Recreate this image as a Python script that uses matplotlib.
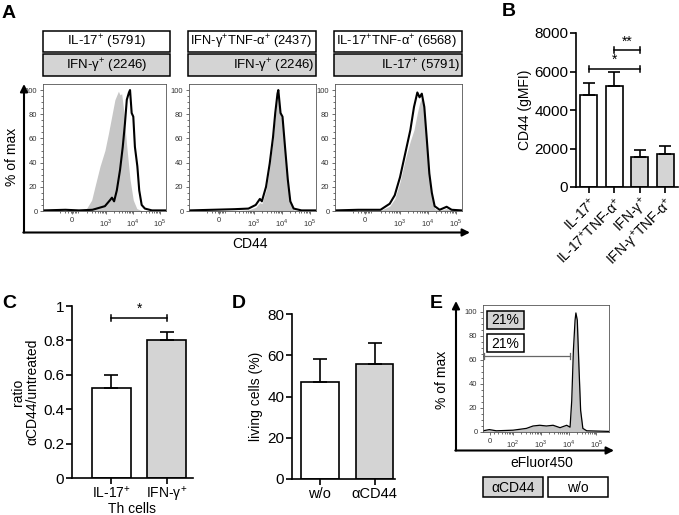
import numpy as np
import matplotlib
matplotlib.use("Agg")
import matplotlib.pyplot as plt
from matplotlib.patches import Rectangle

plt.rcParams['font.family'] = ['Liberation Sans', 'DejaVu Sans']
plt.rcParams['mathtext.fontset'] = 'custom'
plt.rcParams['mathtext.rm'] = 'Liberation Sans'

W, H = 679, 515
GRAY = '#d4d4d4'
FILL = '#c6c6c6'

# ---- panel A: CD44 histograms (x in decades of the display scale, y in % of max)
h1_gray_x = [0.7, 2.0, 2.28, 2.47, 2.59, 2.78, 2.96, 3.09, 3.21, 3.33, 3.46, 3.52, 3.58, 3.64, 3.77, 3.89, 4.01, 4.14, 4.3, 5.2]
h1_gray_y = [0, 0.5, 2, 9, 20, 37, 50, 64, 78, 92, 99, 96, 97, 86, 53, 26, 9, 2, 0.5, 0]
h1_black_x = [0.7, 1.5, 2.0, 2.5, 2.96, 3.15, 3.22, 3.3, 3.4, 3.52, 3.62, 3.70, 3.77, 3.85, 3.89, 3.95, 4.01, 4.07, 4.16, 4.23, 4.32, 4.44, 4.7, 5.2]
h1_black_y = [0.5, 1, 0.5, 1, 4, 9, 11, 8, 17, 34, 53, 72, 92, 98, 100, 81, 78, 53, 37, 17, 5, 2, 0.5, 0.5]

h2_x = [0.7, 1.5, 2.3, 2.8, 3.06, 3.21, 3.28, 3.43, 3.56, 3.68, 3.76, 3.84, 3.87, 3.95, 4.02, 4.11, 4.21, 4.30, 4.42, 4.7, 5.2]
h2_black_y = [0.5, 1, 1.5, 2, 5, 10, 8, 20, 39, 61, 81, 97, 100, 81, 78, 53, 26, 8, 2, 0.5, 0.5]
h2_gray_y = [0, 0, 0.5, 1, 3, 7, 6, 17, 36, 58, 78, 94, 97, 79, 75, 50, 23, 6, 1, 0, 0]

h3_x = [0.7, 1.5, 2.3, 2.63, 2.81, 3.0, 3.19, 3.37, 3.5, 3.62, 3.70, 3.78, 3.87, 3.96, 4.05, 4.14, 4.24, 4.42, 4.67, 4.85, 5.2]
h3_black_y = [0.5, 1, 1, 6, 13, 28, 48, 67, 86, 98, 94, 97, 86, 59, 31, 15, 4, 1, 3.5, 1, 0.5]
h3_gray_y = [0, 0.5, 0.5, 4, 10, 24, 43, 58, 67, 81, 89, 94, 83, 56, 28, 12, 2, 0.5, 2, 0.5, 0]

a_ticks = [1.74, 3, 4, 5]
a_ticklabels = ['0', '$10^3$', '$10^4$', '$10^5$']

# ---- panel B
b_cats = ['IL-17$^{+}$', 'IL-17$^{+}$TNF-α$^{+}$', 'IFN-γ$^{+}$', 'IFN-γ$^{+}$TNF-α$^{+}$']
b_vals = [4800, 5250, 1550, 1720]
b_err = [620, 720, 380, 420]
b_colors = ['white', 'white', GRAY, GRAY]

# ---- panel C
c_cats = ['IL-17$^{+}$', 'IFN-γ$^{+}$']
c_vals = [0.525, 0.80]
c_err = [0.075, 0.05]

# ---- panel D
d_cats = ['w/o', 'αCD44']
d_vals = [46.8, 56.0]
d_err = [11.6, 9.8]

# ---- panel E: eFluor450 dilution
e_x = [0.92, 1.15, 1.4, 2.0, 2.48, 2.72, 2.96, 3.2, 3.44, 3.69, 3.93, 4.05, 4.11, 4.17, 4.23, 4.26, 4.31, 4.37, 4.43, 4.51, 4.65, 5.45]
e_y = [1, 2, 1, 1.5, 3, 5, 5.6, 5, 5.6, 3.6, 5.6, 4, 26, 68, 93, 99, 93, 54, 18, 3, 1, 0.5]
e_ticks = [1.16, 2, 3, 4, 5]
e_ticklabels = ['0', '$10^2$', '$10^3$', '$10^4$', '$10^5$']
e_gate = (0.92, 4.05, 63)


fig = plt.figure(figsize=(W / 100, H / 100), dpi=100)


def px_axes(l, t, r, b):
    return fig.add_axes([l / W, 1 - b / H, (r - l) / W, (b - t) / H])


def flow_style(ax, xlim, ticks, labels, ytop):
    ax.set_xlim(*xlim)
    ax.set_ylim(0, ytop)
    ax.set_xticks(ticks)
    ax.set_xticklabels(labels)
    ax.set_yticks(range(0, 101, 20))
    minor = [np.log10(k * 10 ** d) for d in range(1, 5) for k in range(2, 10)]
    ax.set_xticks([m for m in minor if xlim[0] < m < xlim[1]], minor=True)
    ax.set_yticks(range(0, 101, 5), minor=True)
    ax.tick_params(labelsize=5.5, length=2.5, width=0.5, pad=1.5, colors='#333333')
    ax.tick_params(which='minor', length=1.5, width=0.4)
    for s in ax.spines.values():
        s.set_linewidth(0.6)
        s.set_color('#555555')


def bar_style(ax):
    ax.spines['top'].set_visible(False)
    ax.spines['right'].set_visible(False)
    ax.spines['left'].set_linewidth(1.2)
    ax.spines['bottom'].set_linewidth(1.2)
    ax.tick_params(labelsize=11, width=1.2, length=4, pad=1.5)


def bracket(ax, x1, x2, y, d, label):
    ax.plot([x1, x2], [y, y], color='k', lw=1.1, clip_on=False)
    ax.plot([x1, x1], [y - d, y + d], color='k', lw=1.1, clip_on=False)
    ax.plot([x2, x2], [y - d, y + d], color='k', lw=1.1, clip_on=False)
    ax.text((x1 + x2) / 2, y + d * 0.6, label, ha='center', va='bottom', fontsize=10, clip_on=False)


# panel A histograms
hist_boxes = [(43, 166), (189, 316), (335, 462)]
hist_data = [(h1_gray_x, h1_gray_y, h1_black_x, h1_black_y),
             (h2_x, h2_gray_y, h2_x, h2_black_y),
             (h3_x, h3_gray_y, h3_x, h3_black_y)]
for (l, r), (gx, gy, bx, by) in zip(hist_boxes, hist_data):
    ax = px_axes(l, 84, r, 211)
    ax.fill_between(gx, gy, color=FILL, lw=0)
    ax.plot(bx, by, color='k', lw=1.5)
    flow_style(ax, (0.67, 5.22), a_ticks, a_ticklabels, 105)

# panel B
axb = px_axes(576, 33, 678, 187)
xb = np.arange(len(b_vals))
axb.bar(xb, b_vals, width=0.68, color=b_colors, edgecolor='k', lw=1.2,
        yerr=[[0] * len(b_err), b_err], capsize=4, error_kw=dict(lw=1.2, capthick=1.2))
axb.set_xlim(-0.5, 3.5)
axb.set_ylim(0, 8000)
axb.set_yticks([0, 2000, 4000, 6000, 8000])
axb.set_xticks(xb)
axb.set_xticklabels(b_cats, rotation=45, ha='right', rotation_mode='anchor')
axb.set_ylabel('CD44 (gMFI)', fontsize=10, labelpad=2)
bar_style(axb)
axb.tick_params(axis='x', labelsize=10)
bracket(axb, 0, 2, 6150, 160, '*')
bracket(axb, 1, 2, 7100, 160, '**')

# panel C
axc = px_axes(72, 306, 193, 478)
xc = np.arange(len(c_vals))
axc.bar(xc, c_vals, width=0.70, color=['white', GRAY], edgecolor='k', lw=1.2,
        yerr=[[0, 0], c_err], capsize=5, error_kw=dict(lw=1.2, capthick=1.2))
axc.set_xlim(-0.71, 1.47)
axc.set_ylim(0, 1)
axc.set_yticks([0, 0.2, 0.4, 0.6, 0.8, 1])
axc.set_yticklabels(['0', '0.2', '0.4', '0.6', '0.8', '1'])
axc.set_xticks(xc)
axc.set_xticklabels(c_cats)
axc.set_ylabel('ratio\nαCD44/untreated', fontsize=10, labelpad=3, linespacing=1.0)
bar_style(axc)
axc.tick_params(axis='x', labelsize=10, pad=1)
axc.set_xlabel('Th cells', fontsize=10, labelpad=-1.5)
bracket(axc, 0, 1, 0.93, 0.02, '*')

# panel D
axd = px_axes(292, 314, 395, 479)
xd = np.arange(len(d_vals))
axd.bar(xd, d_vals, width=0.68, color=['white', GRAY], edgecolor='k', lw=1.2,
        yerr=[[0, 0], d_err], capsize=5, error_kw=dict(lw=1.2, capthick=1.2))
axd.set_xlim(-0.51, 1.37)
axd.set_ylim(0, 80)
axd.set_yticks([0, 20, 40, 60, 80])
axd.set_xticks(xd)
axd.set_xticklabels(d_cats)
axd.set_ylabel('living cells (%)', fontsize=10, labelpad=3)
bar_style(axd)
axd.tick_params(axis='x', labelsize=10.5)

# panel E histogram
axe = px_axes(483, 305, 609, 432)
axe.fill_between(e_x, e_y, color=FILL, lw=0)
axe.plot(e_x, e_y, color='k', lw=0.9)
axe.plot([e_gate[0], e_gate[1]], [e_gate[2], e_gate[2]], color='#666666', lw=0.9)
axe.plot([e_gate[0] + 0.02] * 2, [e_gate[2] - 2.5, e_gate[2] + 2.5], color='#666666', lw=0.9)
axe.plot([e_gate[1]] * 2, [e_gate[2] - 2.5, e_gate[2] + 2.5], color='#666666', lw=0.9)
flow_style(axe, (0.92, 5.45), e_ticks, e_ticklabels, 105.6)

# overlay for arrows, labels and boxes (pixel coordinates)
ov = fig.add_axes([0, 0, 1, 1])
ov.set_xlim(0, W)
ov.set_ylim(H, 0)
ov.axis('off')

arrow = dict(arrowstyle='-|>', lw=1.5, color='k', mutation_scale=11, shrinkA=0, shrinkB=0)
ov.annotate('', xy=(24, 84), xytext=(24, 232.5), arrowprops=arrow)
ov.annotate('', xy=(470, 232.5), xytext=(23.3, 232.5), arrowprops=arrow)
ov.annotate('', xy=(456, 301), xytext=(456, 450.5), arrowprops=arrow)
ov.annotate('', xy=(614, 450.5), xytext=(455.3, 450.5), arrowprops=arrow)


def label_box(x0, y0, x1, y1, text, face, ha='center', fs=9.5):
    ov.add_patch(Rectangle((x0, y0), x1 - x0, y1 - y0, facecolor=face, edgecolor='k', lw=1.1))
    if ha == 'center':
        tx = (x0 + x1) / 2
    elif ha == 'right':
        tx = x1 - 2
    else:
        tx = x0 + 1.5
    ov.text(tx, (y0 + y1) / 2 + 0.5, text, ha=ha, va='center', fontsize=fs)


label_box(43, 31, 170, 52, 'IL-17$^{+}$ (5791)', 'white')
label_box(43, 54, 170, 76, 'IFN-γ$^{+}$ (2246)', GRAY)
label_box(188, 31, 316, 52, 'IFN-γ$^{+}$TNF-α$^{+}$ (2437)', 'white', ha='left', fs=9.3)
label_box(188, 54, 316, 76, 'IFN-γ$^{+}$ (2246)', GRAY, ha='right')
label_box(334, 31, 462, 52, 'IL-17$^{+}$TNF-α$^{+}$ (6568)', 'white', ha='left', fs=9.4)
label_box(334, 54, 462, 76, 'IL-17$^{+}$ (5791)', GRAY, ha='right')

label_box(487, 311, 524, 329, '21%', GRAY, fs=10)
label_box(487, 334, 524, 352, '21%', 'white', fs=10)
label_box(483, 477, 543, 497, 'αCD44', GRAY, fs=10)
label_box(548, 477, 608, 497, 'w/o', 'white', fs=10)

ov.text(12, 157, '% of max', rotation=90, ha='center', va='center', fontsize=10)
ov.text(250, 244, 'CD44', ha='center', va='center', fontsize=10)
ov.text(442, 380, '% of max', rotation=90, ha='center', va='center', fontsize=10)
ov.text(542, 463, 'eFluor450', ha='center', va='center', fontsize=10)

for x, y, s in [(9, 13, 'A'), (509, 12, 'B'), (9, 303, 'C'), (239, 303, 'D'), (436, 303, 'E')]:
    ov.text(x, y, s, ha='center', va='center', fontsize=14, fontweight='bold')

fig.savefig('out.png', dpi=100)
